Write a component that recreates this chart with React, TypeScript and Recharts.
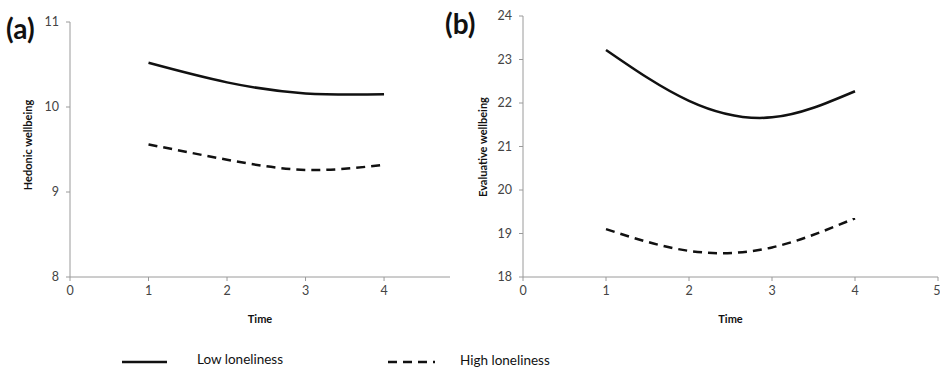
import { Line, LineChart, XAxis, YAxis } from "recharts";

const TIME = [1, 2, 3, 4];
const SERIES_NAMES = ["Low loneliness", "High loneliness"];

// panel (a) hedonic wellbeing
const HEDONIC_LOW = [10.52, 10.29, 10.16, 10.15];
const HEDONIC_HIGH = [9.56, 9.38, 9.26, 9.32];
const HEDONIC_TICKS = [8, 9, 10, 11];
const TIME_TICKS_A = [0, 1, 2, 3, 4];

// panel (b) evaluative wellbeing
const EVAL_LOW = [23.22, 22.05, 21.67, 22.27];
const EVAL_HIGH = [19.1, 18.6, 18.68, 19.35];
const EVAL_TICKS = [18, 19, 20, 21, 22, 23, 24];
const TIME_TICKS_B = [0, 1, 2, 3, 4, 5];

const FONT = "Lato, 'Open Sans', sans-serif";
const AXIS = "#9a9a9a";
const TICK = { fill: "#444", fontSize: 12.5, fontFamily: FONT };

const hedonicData = TIME.map((t, i) => ({
  time: t,
  low: HEDONIC_LOW[i],
  high: HEDONIC_HIGH[i],
}));
const evalData = TIME.map((t, i) => ({
  time: t,
  low: EVAL_LOW[i],
  high: EVAL_HIGH[i],
}));

function Panel({
  data,
  yTicks,
  xTicks,
  xMax,
  width,
  top,
  left,
  right,
}: {
  data: { time: number; low: number; high: number }[];
  yTicks: number[];
  xTicks: number[];
  xMax: number;
  width: number;
  top: number;
  left: number;
  right: number;
}) {
  return (
    <LineChart
      width={width}
      height={335}
      data={data}
      margin={{ top, right, left, bottom: 14 }}
    >
      <XAxis
        type="number"
        dataKey="time"
        domain={[0, xMax]}
        ticks={xTicks}
        allowDataOverflow
        height={44}
        stroke={AXIS}
        tickSize={4}
        tickMargin={5}
        tick={TICK}
        label={{
          value: "Time",
          position: "insideBottom",
          offset: -2,
          style: { fontFamily: FONT, fontSize: 11, fontWeight: 700, fill: "#111" },
        }}
      />
      <YAxis
        domain={[yTicks[0], yTicks[yTicks.length - 1]]}
        ticks={yTicks}
        width={40}
        stroke={AXIS}
        tickSize={4}
        tickMargin={7}
        tick={TICK}
      />
      <Line
        type="natural"
        dataKey="low"
        stroke="#111"
        strokeWidth={2.5}
        dot={false}
        isAnimationActive={false}
      />
      <Line
        type="natural"
        dataKey="high"
        stroke="#111"
        strokeWidth={2.5}
        strokeDasharray="9 6"
        dot={false}
        isAnimationActive={false}
      />
    </LineChart>
  );
}

const abs = (left: number, top: number): React.CSSProperties => ({
  position: "absolute",
  left,
  top,
});

const yLabel: React.CSSProperties = {
  transform: "translate(-50%, -50%) rotate(-90deg)",
  fontSize: 11,
  fontWeight: 700,
  whiteSpace: "nowrap",
  lineHeight: 1,
};

export default function App() {
  return (
    <div
      style={{
        position: "absolute",
        left: 0,
        top: 0,
        width: 940,
        height: 370,
        background: "#fff",
        overflow: "hidden",
        fontFamily: FONT,
        color: "#111",
      }}
    >
      <div style={abs(0, 0)}>
        <Panel
          data={hedonicData}
          yTicks={HEDONIC_TICKS}
          xTicks={TIME_TICKS_A}
          xMax={4.84}
          width={460}
          top={22}
          left={30}
          right={10}
        />
      </div>
      <div style={abs(460, 0)}>
        <Panel
          data={evalData}
          yTicks={EVAL_TICKS}
          xTicks={TIME_TICKS_B}
          xMax={5}
          width={480}
          top={16}
          left={23}
          right={2}
        />
      </div>

      <div style={{ ...abs(6, 14), fontSize: 28, fontWeight: 700, lineHeight: 1 }}>
        (a)
      </div>
      <div style={{ ...abs(445, 9), fontSize: 28, fontWeight: 700, lineHeight: 1 }}>
        (b)
      </div>

      <div style={{ ...abs(27, 145), ...yLabel }}>Hedonic wellbeing</div>
      <div style={{ ...abs(482, 147), ...yLabel }}>Evaluative wellbeing</div>

      {/* legend */}
      <svg style={abs(0, 350)} width={940} height={20}>
        <line x1={122} x2={167} y1={12} y2={12} stroke="#111" strokeWidth={2.5} />
        <line
          x1={388}
          x2={435}
          y1={12}
          y2={12}
          stroke="#111"
          strokeWidth={2.5}
          strokeDasharray="9 6"
        />
      </svg>
      <div style={{ ...abs(197, 353), fontSize: 13.5, lineHeight: 1 }}>
        {SERIES_NAMES[0]}
      </div>
      <div style={{ ...abs(460, 354), fontSize: 13.5, lineHeight: 1 }}>
        {SERIES_NAMES[1]}
      </div>
    </div>
  );
}
